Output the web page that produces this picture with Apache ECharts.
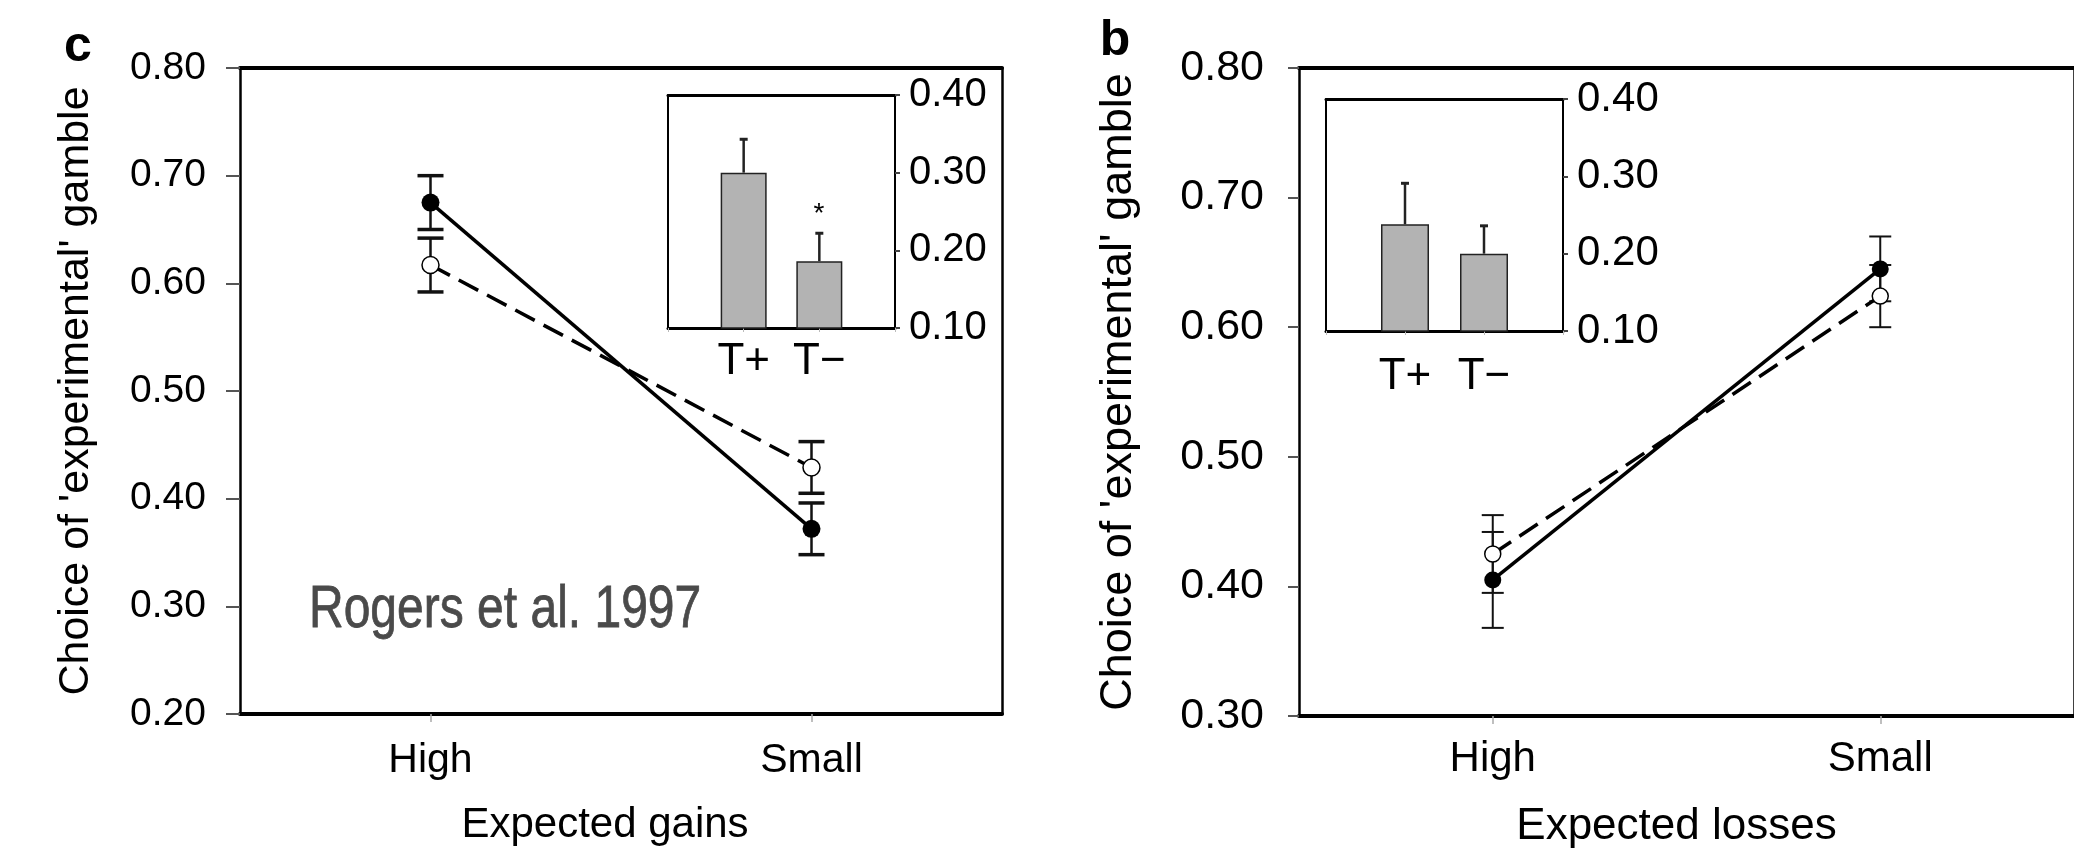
<!DOCTYPE html>
<html><head><meta charset="utf-8">
<script src="https://cdn.jsdelivr.net/npm/echarts@6/dist/echarts.min.js"></script>
<style>html,body{margin:0;padding:0;background:#fff}#c{width:2074px;height:854px}</style>
</head><body><div id="c"></div>
<script>
// ---------- data ----------
const gainCategories = ['High', 'Small'];
const lossCategories = ['High', 'Small'];
const insetCategories = ['T+', 'T\u2212'];

const gainFilled = [0.675, 0.372];
const gainFilledErr = [0.025, 0.024];
const gainOpen = [0.617, 0.429];
const gainOpenErr = [0.025, 0.024];
const gainInset = [0.300, 0.186];
const gainInsetErr = [0.043, 0.036];

const lossFilled = [0.405, 0.645];
const lossFilledErr = [0.037, 0.025];
const lossOpen = [0.425, 0.624];
const lossOpenErr = [0.030, 0.024];
const lossInset = [0.238, 0.200];
const lossInsetErr = [0.053, 0.036];

const gainYTicks = ['0.20', '0.30', '0.40', '0.50', '0.60', '0.70', '0.80'];
const lossYTicks = ['0.30', '0.40', '0.50', '0.60', '0.70', '0.80'];
const insetYTicks = ['0.10', '0.20', '0.30', '0.40'];

const yTitle = "Choice of 'experimental' gamble";
const gainXTitle = 'Expected gains';
const lossXTitle = 'Expected losses';
const panelLetters = ['c', 'b'];
const citation = 'Rogers et al. 1997';
const sigMark = '*';

// ---------- helpers ----------
const FONT = '"Liberation Sans", Arial, Helvetica, sans-serif';
const first = a => parseFloat(a[0]);
const last = a => parseFloat(a[a.length - 1]);
const fmt = v => Number(v).toFixed(2);

function errRender(capHalf, lineW, capW, color, twoSided) {
  return function (params, api) {
    const x = api.value(0), lo = api.value(1), hi = api.value(2);
    const pLo = api.coord([x, lo]), pHi = api.coord([x, hi]);
    const ch = [
      {type: 'line', shape: {x1: pLo[0], y1: pLo[1], x2: pHi[0], y2: pHi[1]}, style: {stroke: color, lineWidth: lineW}},
      {type: 'line', shape: {x1: pHi[0] - capHalf, y1: pHi[1], x2: pHi[0] + capHalf, y2: pHi[1]}, style: {stroke: color, lineWidth: capW}}
    ];
    if (twoSided) ch.push({type: 'line', shape: {x1: pLo[0] - capHalf, y1: pLo[1], x2: pLo[0] + capHalf, y2: pLo[1]}, style: {stroke: color, lineWidth: capW}});
    return {type: 'group', children: ch};
  };
}
const twoSided = (vals, errs) => vals.map((v, i) => [i, v - errs[i], v + errs[i]]);
const oneSided = (vals, errs) => vals.map((v, i) => [i + 1, v, v + errs[i]]);
const barData = vals => vals.map((v, i) => [i + 1, v]);

function mainX(grid, cats, title, padRight, labSize, labMargin, nameSize, nameGap) {
  return [{
    gridIndex: grid, type: 'category', data: cats, boundaryGap: true, position: 'bottom',
    axisLine: {onZero: false, lineStyle: {color: '#000', width: 4}},
    axisTick: {show: true, alignWithLabel: true, length: 8, lineStyle: {color: '#aaa', width: 1.5}},
    axisLabel: {fontFamily: FONT, fontSize: labSize, color: '#000', margin: labMargin},
    name: title, nameLocation: 'middle', nameGap: nameGap,
    nameTextStyle: {fontFamily: FONT, fontSize: nameSize, color: '#000', padding: [0, padRight, 0, 0]},
    splitLine: {show: false}
  }, {
    gridIndex: grid, type: 'category', data: cats, boundaryGap: true, position: 'top',
    axisLine: {onZero: false, lineStyle: {color: '#000', width: 4}},
    axisTick: {show: false}, axisLabel: {show: false}, splitLine: {show: false}
  }];
}
function mainY(grid, ticks, gap, tickLen, labSize, labMargin, nameSize) {
  return [{
    gridIndex: grid, type: 'value', min: first(ticks), max: last(ticks), interval: 0.1, position: 'left',
    axisLine: {show: true, onZero: false, lineStyle: {color: '#000', width: 2.5}},
    axisTick: {show: true, length: tickLen, lineStyle: {color: '#555', width: 2}},
    axisLabel: {fontFamily: FONT, fontSize: labSize, color: '#000', margin: labMargin, formatter: fmt},
    name: yTitle, nameLocation: 'middle', nameGap: gap, nameRotate: 90,
    nameTextStyle: {fontFamily: FONT, fontSize: nameSize, color: '#000'},
    splitLine: {show: false}
  }, {
    gridIndex: grid, type: 'value', min: first(ticks), max: last(ticks), interval: 0.1, position: 'right',
    axisLine: {show: true, onZero: false, lineStyle: {color: '#000', width: 2.5}},
    axisTick: {show: false}, axisLabel: {show: false}, splitLine: {show: false}
  }];
}
function insetX(grid, labSize, labMargin) {
  return [{
    gridIndex: grid, type: 'value', min: 0, max: insetCategories.length + 1, interval: 1, position: 'bottom',
    axisLine: {onZero: false, lineStyle: {color: '#000', width: 3}},
    axisTick: {show: true, length: 4, lineStyle: {color: '#bbb', width: 1}},
    axisLabel: {fontFamily: FONT, fontSize: labSize, color: '#000', margin: labMargin,
      formatter: v => insetCategories[v - 1] || ''},
    splitLine: {show: false}
  }, {
    gridIndex: grid, type: 'value', min: 0, max: insetCategories.length + 1, position: 'top',
    axisLine: {onZero: false, lineStyle: {color: '#000', width: 3}},
    axisTick: {show: false}, axisLabel: {show: false}, splitLine: {show: false}
  }];
}
function insetY(grid, labSize) {
  return [{
    gridIndex: grid, type: 'value', min: first(insetYTicks), max: last(insetYTicks), interval: 0.1, position: 'right',
    axisLine: {show: true, onZero: false, lineStyle: {color: '#000', width: 2}},
    axisTick: {show: true, length: 5, lineStyle: {color: '#444', width: 2}},
    axisLabel: {fontFamily: FONT, fontSize: labSize, color: '#000', margin: 14, formatter: fmt},
    splitLine: {show: false}
  }, {
    gridIndex: grid, type: 'value', min: first(insetYTicks), max: last(insetYTicks), interval: 0.1, position: 'left',
    axisLine: {show: true, onZero: false, lineStyle: {color: '#000', width: 2}},
    axisTick: {show: false}, axisLabel: {show: false}, splitLine: {show: false}
  }];
}

const grids = [
  {left: 240, top: 68, width: 762, height: 646},
  {left: 668, top: 95, width: 227, height: 233, show: true, backgroundColor: '#fff', borderWidth: 0},
  {left: 1299, top: 68, width: 802, height: 651},
  {left: 1326, top: 99, width: 237, height: 232, show: true, backgroundColor: '#fff', borderWidth: 0}
];

const xAxes = [].concat(
  mainX(0, gainCategories, gainXTitle, 32, 41, 26, 42, 90),   // 0,1
  insetX(1, 44, 12),                                          // 2,3
  mainX(2, lossCategories, lossXTitle, 20, 42, 22, 44, 89),   // 4,5
  insetX(3, 44, 24)                                           // 6,7
);
const yAxes = [].concat(
  mainY(0, gainYTicks, 142, 14, 39, 34, 43),                  // 0,1
  insetY(1, 40),                                              // 2,3
  mainY(2, lossYTicks, 158, 11, 43, 35, 45),                  // 4,5
  insetY(3, 42)                                               // 6,7
);

function mainSeries(xi, yi, filled, filledErr, open, openErr, capHalf, lw, cw, lineW, fSize, oSize) {
  return [
    {type: 'custom', xAxisIndex: xi, yAxisIndex: yi, z: 1, renderItem: errRender(capHalf, lw, cw, '#111', true),
      encode: {x: 0, y: [1, 2]}, data: twoSided(open, openErr), silent: true},
    {type: 'custom', xAxisIndex: xi, yAxisIndex: yi, z: 1, renderItem: errRender(capHalf, lw, cw, '#111', true),
      encode: {x: 0, y: [1, 2]}, data: twoSided(filled, filledErr), silent: true},
    {type: 'line', xAxisIndex: xi, yAxisIndex: yi, z: 3, data: open, symbol: 'circle', symbolSize: oSize,
      itemStyle: {color: '#fff', borderColor: '#000', borderWidth: 1.5},
      lineStyle: {color: '#000', width: lineW, type: [22, 10]}, animation: false},
    {type: 'line', xAxisIndex: xi, yAxisIndex: yi, z: 4, data: filled, symbol: 'circle', symbolSize: fSize,
      itemStyle: {color: '#000', borderColor: '#000', borderWidth: 0},
      lineStyle: {color: '#000', width: lineW}, animation: false}
  ];
}
function insetSeries(xi, yi, vals, errs, bw) {
  return [
    {type: 'custom', xAxisIndex: xi, yAxisIndex: yi, z: 5, renderItem: errRender(4, 2.5, 3, '#222', false),
      encode: {x: 0, y: [1, 2]}, data: oneSided(vals, errs), silent: true},
    {type: 'bar', xAxisIndex: xi, yAxisIndex: yi, z: 6, data: barData(vals), barWidth: bw, clip: true,
      itemStyle: {color: '#b3b3b3', borderColor: '#222', borderWidth: 1.5}, animation: false}
  ];
}

const series = [].concat(
  mainSeries(0, 0, gainFilled, gainFilledErr, gainOpen, gainOpenErr, 13, 2.5, 3.5, 3.5, 18, 17),
  insetSeries(2, 2, gainInset, gainInsetErr, 46),
  mainSeries(4, 4, lossFilled, lossFilledErr, lossOpen, lossOpenErr, 11, 2, 2, 3.5, 17, 16),
  insetSeries(6, 6, lossInset, lossInsetErr, 48)
);

const graphics = [
  {type: 'text', x: 78, y: 47, style: {text: panelLetters[0], fontFamily: FONT, fontSize: 50, fontWeight: 'bold', fill: '#000', align: 'center', verticalAlign: 'middle'}},
  {type: 'text', x: 1115, y: 41, style: {text: panelLetters[1], fontFamily: FONT, fontSize: 50, fontWeight: 'bold', fill: '#000', align: 'center', verticalAlign: 'middle'}},
  {type: 'text', x: 309, y: 610, scaleX: 0.80, style: {text: citation, fontFamily: FONT, fontSize: 60, fill: '#4a4a4a', stroke: '#4a4a4a', lineWidth: 0.8, align: 'left', verticalAlign: 'middle'}},
  {type: 'text', x: 819, y: 214, z: 10, style: {text: sigMark, fontFamily: FONT, fontSize: 28, fill: '#000', align: 'center', verticalAlign: 'middle'}}
];

const chart = echarts.init(document.getElementById('c'), null, {renderer: 'canvas'});
chart.setOption({
  backgroundColor: '#fff',
  animation: false,
  grid: grids,
  xAxis: xAxes,
  yAxis: yAxes,
  series: series,
  graphic: graphics
});
</script>
</body></html>
